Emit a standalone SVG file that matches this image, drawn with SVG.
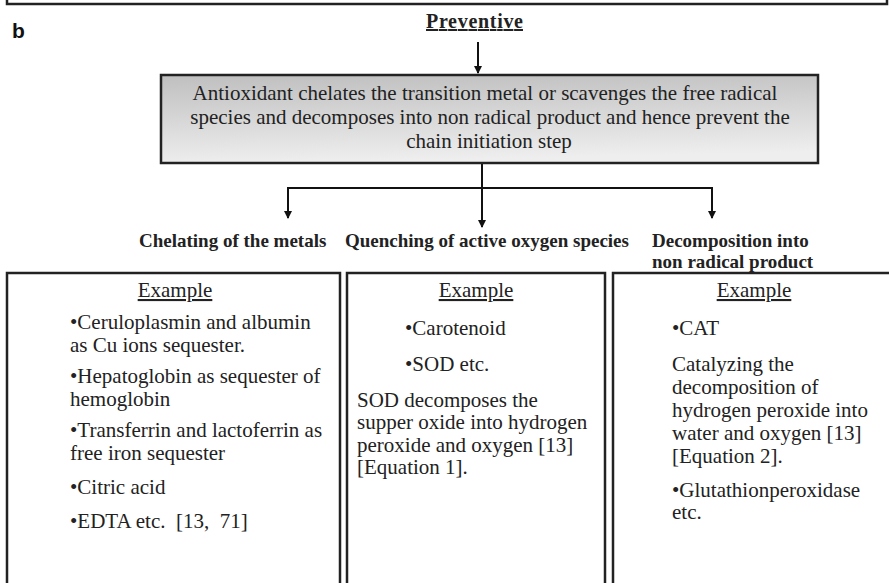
<svg xmlns="http://www.w3.org/2000/svg" width="889" height="583" viewBox="0 0 889 583">
<defs>
<linearGradient id="g" x1="0" y1="0" x2="0.15" y2="1">
<stop offset="0" stop-color="#bfbfbf"/>
<stop offset="1" stop-color="#eeeeee"/>
</linearGradient>
<marker id="ah" markerWidth="8" markerHeight="8" refX="7" refY="4" orient="auto" markerUnits="userSpaceOnUse">
<path d="M0,0 L8,4 L0,8 Z" fill="#111"/>
</marker>
<style>
.t{font-family:"Liberation Serif","Times New Roman",serif;font-size:21px;fill:#222}
.b{font-family:"Liberation Serif","Times New Roman",serif;font-size:19px;font-weight:bold;fill:#222}
.u{text-decoration:underline}
.box{fill:#fff;stroke:#222;stroke-width:2.5}
.c{fill:none;stroke:#111;stroke-width:2}
</style>
</defs>
<rect width="889" height="583" fill="#fff"/>
<g id="topframe"><rect x="7" y="-10" width="880" height="14" fill="none" stroke="#222" stroke-width="2.5"/></g>
<g id="label-b"><text x="12" y="38" style="font-family:'Liberation Sans',Arial,sans-serif;font-size:21px;font-weight:bold;fill:#111">b</text></g>
<g id="preventive"><text x="426" y="28" class="b u" style="font-size:20px" textLength="97">Preventive</text></g>
<g id="connectors">
<line x1="478" y1="42" x2="478" y2="73" class="c" marker-end="url(#ah)"/>
<line x1="482" y1="164" x2="482" y2="227" class="c" marker-end="url(#ah)"/>
<polyline points="288,218 288,188 712,188 712,218" class="c"/>
<line x1="288" y1="200" x2="288" y2="218" class="c" marker-end="url(#ah)"/>
<line x1="712" y1="200" x2="712" y2="218" class="c" marker-end="url(#ah)"/>
</g>
<g id="main">
<rect x="161" y="75" width="657" height="88" fill="url(#g)" stroke="#222" stroke-width="2.5"/>
<text class="t" text-anchor="middle"><tspan x="485" y="100">Antioxidant chelates the transition metal or scavenges the free radical</tspan><tspan x="490" y="124">species and decomposes into non radical product and hence prevent the</tspan><tspan x="489" y="148">chain initiation step</tspan></text>
</g>
<g id="label1"><text x="139" y="247" class="b">Chelating of the metals</text></g>
<g id="label2"><text x="345" y="247" class="b">Quenching of active oxygen species</text></g>
<g id="label3"><text x="652" y="247" class="b">Decomposition into</text><text x="652" y="268" class="b">non radical product</text></g>
<g id="box1">
<rect x="7" y="273" width="333" height="330" class="box"/>
<text x="175" y="297" text-anchor="middle" class="t u">Example</text>
<text class="t"><tspan x="70" y="329">•Ceruloplasmin and albumin</tspan><tspan x="70" y="352">as Cu ions sequester.</tspan><tspan x="70" y="383">•Hepatoglobin as sequester of</tspan><tspan x="70" y="406">hemoglobin</tspan><tspan x="70" y="437">•Transferrin and lactoferrin as</tspan><tspan x="70" y="460">free iron sequester</tspan><tspan x="70" y="494">•Citric acid</tspan><tspan x="70" y="528" style="white-space:pre">•EDTA etc.  [13,  71]</tspan></text>
</g>
<g id="box2">
<rect x="347" y="273" width="258" height="330" class="box"/>
<text x="476" y="297" text-anchor="middle" class="t u">Example</text>
<text class="t"><tspan x="405" y="335">•Carotenoid</tspan><tspan x="405" y="371">•SOD etc.</tspan><tspan x="357" y="407">SOD decomposes the</tspan><tspan x="357" y="429">supper oxide into hydrogen</tspan><tspan x="357" y="452">peroxide and oxygen [13]</tspan><tspan x="357" y="474">[Equation 1].</tspan></text>
</g>
<g id="box3">
<rect x="613" y="273" width="300" height="330" class="box"/>
<text x="754" y="297" text-anchor="middle" class="t u">Example</text>
<text class="t"><tspan x="672" y="335">•CAT</tspan><tspan x="672" y="371">Catalyzing the</tspan><tspan x="672" y="394">decomposition of</tspan><tspan x="672" y="417">hydrogen peroxide into</tspan><tspan x="672" y="440">water and oxygen [13]</tspan><tspan x="672" y="463">[Equation 2].</tspan><tspan x="672" y="497">•Glutathionperoxidase</tspan><tspan x="672" y="519">etc.</tspan></text>
</g>
</svg>
